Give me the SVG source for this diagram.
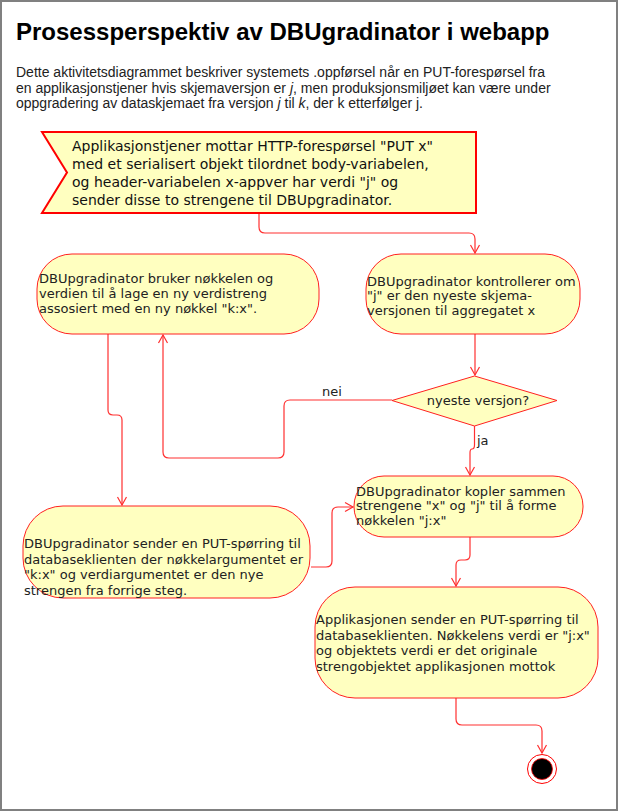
<svg xmlns="http://www.w3.org/2000/svg" width="619" height="812" viewBox="0 0 619 812">
<style>
.title{font-family:"Liberation Sans",Arial,sans-serif;font-size:24px;font-weight:bold;fill:#000}
.desc{font-family:"Liberation Sans",Arial,sans-serif;font-size:14px;fill:#222}
.node{fill:#FFFFC0;stroke:#FF2020;stroke-width:1}
.t{font-family:"DejaVu Sans",Verdana,sans-serif;font-size:13px;fill:#222}
.ts{font-family:"DejaVu Sans",Verdana,sans-serif;font-size:14px;fill:#111}
.edge{fill:none;stroke:#FF3030;stroke-width:1.2}
</style>
<defs>
<marker id="arr" markerWidth="12" markerHeight="12" refX="10" refY="6" orient="auto" markerUnits="userSpaceOnUse">
<path d="M2,1.5 L10,6 L2,10.5" fill="none" stroke="#FF3030" stroke-width="1.2"/>
</marker>
</defs>
<rect x="1" y="1" width="616" height="809" fill="#fff" stroke="#808080" stroke-width="2"/>
<text class="title" x="16" y="40">Prosessperspektiv av DBUgradinator i webapp</text>
<text class="desc" x="16" y="77">Dette aktivitetsdiagrammet beskriver systemets .oppførsel når en PUT-forespørsel fra</text>
<text class="desc" x="16" y="93">en applikasjonstjener hvis skjemaversjon er <tspan font-style="italic">j</tspan>, men produksjonsmiljøet kan være under</text>
<text class="desc" x="16" y="108">oppgradering av dataskjemaet fra versjon <tspan font-style="italic">j</tspan> til <tspan font-style="italic">k</tspan>, der k etterfølger j.</text>

<g id="connectors">
<path class="edge" d="M259,214 V227 Q259,233 265,233 H469 Q475,233 475,239 V253" marker-end="url(#arr)"/>
<path class="edge" d="M475,334 V375" marker-end="url(#arr)"/>
<path class="edge" d="M392,400 H290 Q284,400 284,406 V452 Q284,458 278,458 H169 Q163,458 163,452 V335" marker-end="url(#arr)"/>
<path class="edge" d="M474.5,426 V445 Q474.5,449 472,449 Q470,449 470,453 V475" marker-end="url(#arr)"/>
<path class="edge" d="M108,334 V410 Q108,415 113,415 H117 Q122,415 122,420 V505" marker-end="url(#arr)"/>
<path class="edge" d="M311,567 H326 Q332,567 332,561 V513 Q332,507 338,507 H353" marker-end="url(#arr)"/>
<path class="edge" d="M470,537 V555 Q470,560 465,560 H461 Q456,560 456,565 V586" marker-end="url(#arr)"/>
<path class="edge" d="M456,698 V719 Q456,725 462,725 H536 Q542,725 542,731 V753" marker-end="url(#arr)"/>
<text class="t" x="332" y="396" text-anchor="middle">nei</text>
<text class="t" x="477" y="445">ja</text>
</g>

<g id="start">
<path d="M42,132 H476 V213 H42 L67,172.5 Z" fill="#FFFFC0" stroke="#FF0000" stroke-width="2"/>
<text class="ts" x="72" y="151">Applikasjonstjener mottar HTTP-forespørsel "PUT x"</text>
<text class="ts" x="72" y="169">med et serialisert objekt tilordnet body-variabelen,</text>
<text class="ts" x="72" y="187">og header-variabelen x-appver har verdi "j" og</text>
<text class="ts" x="72" y="205">sender disse to strengene til DBUpgradinator.</text>
</g>

<g id="lage">
<rect class="node" x="37" y="254" width="282" height="80" rx="35"/>
<text class="t" x="39" y="283">DBUpgradinator bruker nøkkelen og</text>
<text class="t" x="39" y="298">verdien til å lage en ny verdistreng</text>
<text class="t" x="39" y="313">assosiert med en ny nøkkel "k:x".</text>
</g>

<g id="kontroll">
<rect class="node" x="366" y="254" width="214" height="80" rx="35"/>
<text class="t" x="367" y="286">DBUpgradinator kontrollerer om</text>
<text class="t" x="367" y="300">"j" er den nyeste skjema-</text>
<text class="t" x="367" y="315">versjonen til aggregatet x</text>
</g>

<g id="beslutning">
<path class="node" d="M392,400.5 L474.5,376 L557,400.5 L474.5,426 Z"/>
<text class="t" x="478" y="405" text-anchor="middle">nyeste versjon?</text>
</g>

<g id="kopler">
<rect class="node" x="354" y="476" width="229" height="61" rx="30"/>
<text class="t" x="356" y="496">DBUpgradinator kopler sammen</text>
<text class="t" x="356" y="510">strengene "x" og "j" til å forme</text>
<text class="t" x="356" y="525">nøkkelen "j:x"</text>
</g>

<g id="sender">
<rect class="node" x="23" y="506" width="287" height="92" rx="40"/>
<text class="t" x="24" y="548">DBUpgradinator sender en PUT-spørring til</text>
<text class="t" x="24" y="563.5">databaseklienten der nøkkelargumentet er</text>
<text class="t" x="24" y="579">"k:x" og verdiargumentet er den nye</text>
<text class="t" x="24" y="594.5">strengen fra forrige steg.</text>
</g>

<g id="applikasjonen">
<rect class="node" x="315" y="587" width="283" height="111" rx="40"/>
<text class="t" x="316" y="624">Applikasjonen sender en PUT-spørring til</text>
<text class="t" x="316" y="639.5">databaseklienten. Nøkkelens verdi er "j:x"</text>
<text class="t" x="316" y="655">og objektets verdi er det originale</text>
<text class="t" x="316" y="670.5">strengobjektet applikasjonen mottok</text>
</g>

<g id="slutt">
<circle cx="542" cy="769" r="14.5" fill="#fff" stroke="#FF0000" stroke-width="1"/>
<circle cx="542" cy="769" r="10.5" fill="#000" stroke="#FF0000" stroke-width="0.8"/>
</g>
</svg>
